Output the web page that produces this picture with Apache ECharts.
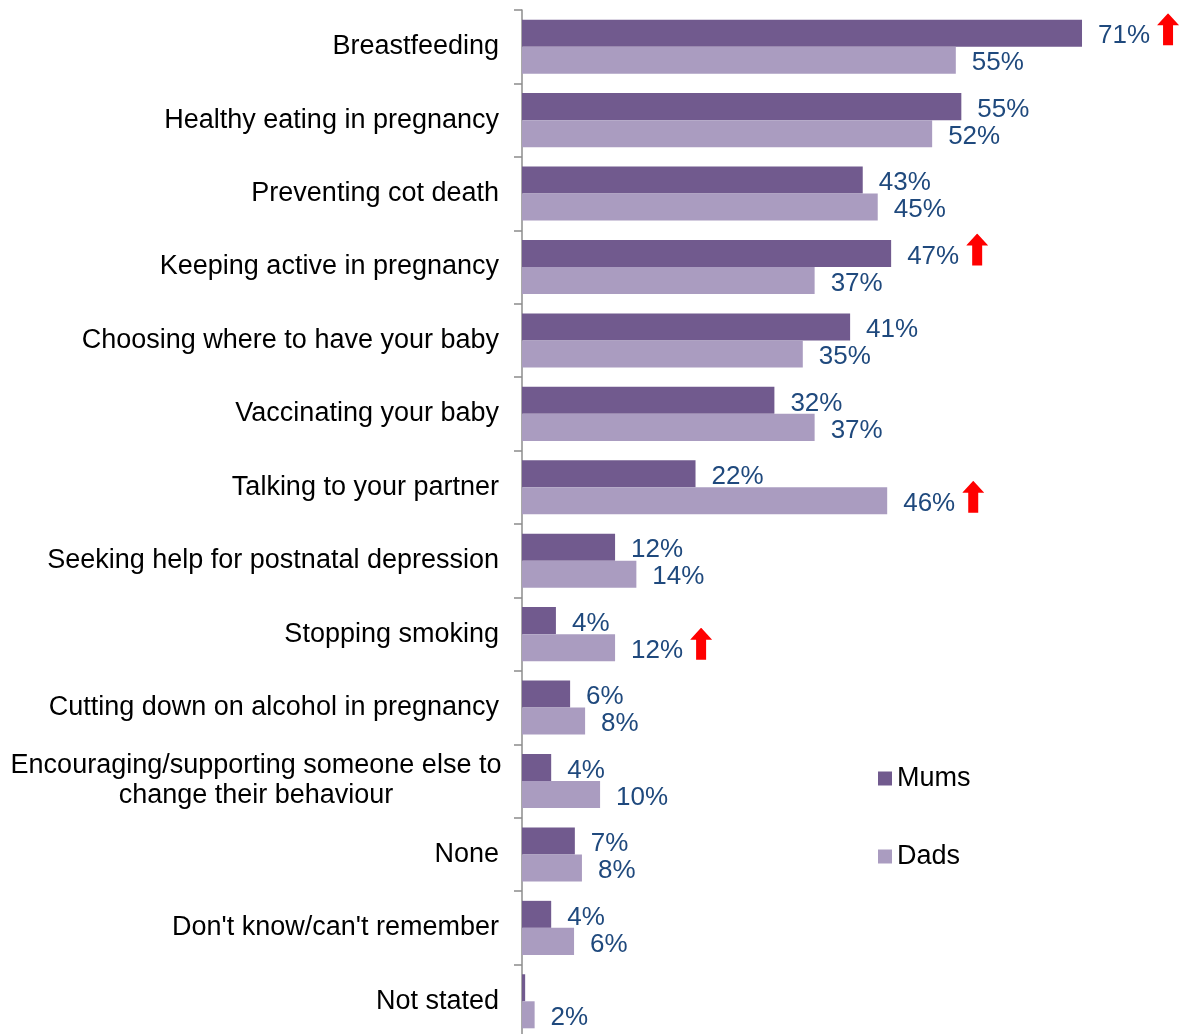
<!DOCTYPE html>
<html>
<head>
<meta charset="utf-8">
<script src="https://cdn.jsdelivr.net/npm/echarts@6/dist/echarts.min.js"></script>
<style>
html,body{margin:0;padding:0;background:#fff;overflow:hidden;}
#chart{width:1181px;height:1042px;}
</style>
</head>
<body>
<div id="chart"></div>
<script>
const categories = [
  'Breastfeeding',
  'Healthy eating in pregnancy',
  'Preventing cot death',
  'Keeping active in pregnancy',
  'Choosing where to have your baby',
  'Vaccinating your baby',
  'Talking to your partner',
  'Seeking help for postnatal depression',
  'Stopping smoking',
  'Cutting down on alcohol in pregnancy',
  'Encouraging/supporting someone else to\nchange their behaviour',
  'None',
  "Don't know/can't remember",
  'Not stated'
];
const seriesNames = ['Mums', 'Dads'];
const mumsValues = [71, 55.7, 43.2, 46.8, 41.6, 32, 22, 11.8, 4.3, 6.1, 3.7, 6.7, 3.7, 0.4];
const dadsValues = [55, 52, 45.1, 37.1, 35.6, 37.1, 46.3, 14.5, 11.8, 8, 9.9, 7.6, 6.6, 1.6];
const mumsLabels = ['71%','55%','43%','47%','41%','32%','22%','12%','4%','6%','4%','7%','4%',''];
const dadsLabels = ['55%','52%','45%','37%','35%','37%','46%','14%','12%','8%','10%','8%','6%','2%'];
const mumsUp = [true,false,false,true,false,false,false,false,false,false,false,false,false,false];
const dadsUp = [false,false,false,false,false,false,true,false,true,false,false,false,false,false];

const arrowSvg = '<svg xmlns="http://www.w3.org/2000/svg" width="22" height="46" viewBox="0 0 22 46">' +
  '<polygon points="11,0 22,12 16,12 16,32 6,32 6,12 0,12" fill="#FF0000"/></svg>';
const arrowUrl = 'data:image/svg+xml;charset=utf-8,' + encodeURIComponent(arrowSvg);

const FONT = "'Liberation Sans', Arial, sans-serif";

function labelFormatter(labels, ups) {
  return function (p) {
    const t = labels[p.dataIndex];
    if (!t) return '';
    return '{v|' + t + '}' + (ups[p.dataIndex] ? '{s| }{a| }' : '');
  };
}

function makeRich(img) {
  return {
    v: { fontSize: 26, color: '#1F497D', fontFamily: FONT },
    s: { width: 7, fontSize: 10 },
    a: { width: 22, height: 46, backgroundColor: { image: img } }
  };
}

const img = new Image();
img.onload = draw;
img.onerror = draw;
img.src = arrowUrl;

function draw() {
  const chart = echarts.init(document.getElementById('chart'), null, { renderer: 'canvas' });
  const rich = makeRich(img);
  chart.setOption({
    animation: false,
    backgroundColor: '#fff',
    grid: { left: 522, top: 10, width: 631, height: 1028, containLabel: false },
    xAxis: {
      type: 'value', min: 0, max: 80,
      show: false,
      splitLine: { show: false }
    },
    yAxis: {
      type: 'category',
      data: categories,
      inverse: true,
      axisLine: { show: true, lineStyle: { color: '#8C8C8C', width: 1.5 } },
      axisTick: { show: true, length: 8, lineStyle: { color: '#8C8C8C', width: 1.5 } },
      axisLabel: {
        margin: 23,
        fontSize: 27,
        color: '#000',
        fontFamily: FONT,
        lineHeight: 30,
        formatter: function (v) {
          if (v.indexOf('\n') >= 0) {
            return v.split('\n').map(function (l) { return '{c|' + l + '}'; }).join('\n');
          }
          return v;
        },
        rich: {
          c: { width: 486, align: 'center', fontSize: 27, color: '#000', fontFamily: FONT, lineHeight: 30 }
        }
      }
    },
    legend: {
      data: seriesNames,
      orient: 'vertical',
      left: 878,
      top: 765,
      padding: 0,
      itemGap: 51,
      itemWidth: 14,
      itemHeight: 14,
      icon: 'rect',
      textStyle: { fontSize: 27, color: '#000', fontFamily: FONT }
    },
    series: [
      {
        name: seriesNames[0],
        type: 'bar',
        data: mumsValues,
        barGap: '0%',
        barCategoryGap: '26.4%',
        itemStyle: { color: '#715A8E' },
        label: {
          show: true, position: 'right', distance: 16, offset: [0, 3],
          formatter: labelFormatter(mumsLabels, mumsUp),
          rich: rich
        }
      },
      {
        name: seriesNames[1],
        type: 'bar',
        data: dadsValues,
        barGap: '0%',
        barCategoryGap: '26.4%',
        itemStyle: { color: '#AA9CC0' },
        label: {
          show: true, position: 'right', distance: 16, offset: [0, 3],
          formatter: labelFormatter(dadsLabels, dadsUp),
          rich: rich
        }
      }
    ]
  });
}
</script>
</body>
</html>
